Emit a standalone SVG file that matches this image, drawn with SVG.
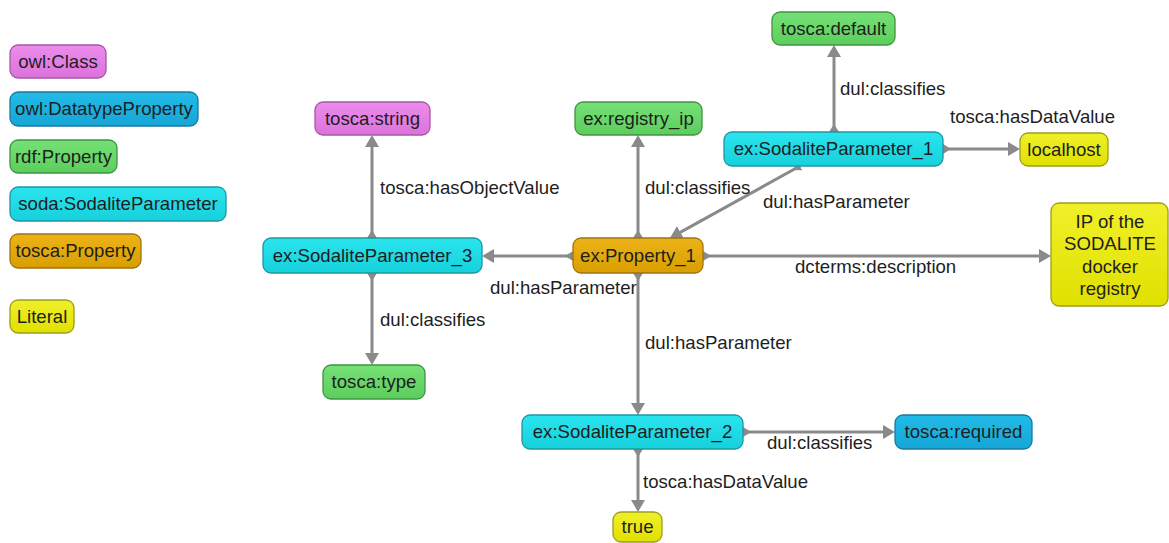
<svg xmlns="http://www.w3.org/2000/svg" width="1169" height="543" viewBox="0 0 1169 543">
  <style>
    text { font-family: "Liberation Sans", Arial, sans-serif; font-size: 18.6px; fill: #1e1e1e; }
    .n text { text-anchor: middle; }
    .n rect { stroke-width: 1.3; }
    .cls rect { fill: url(#gCls); stroke: #a458a4; }
    .dtp rect { fill: url(#gDtp); stroke: #1b78a0; }
    .rdf rect { fill: url(#gRdf); stroke: #3f943f; }
    .sp rect { fill: url(#gSp); stroke: #2096a2; }
    .tp rect { fill: url(#gTp); stroke: #a07410; }
    .lit rect { fill: url(#gLit); stroke: #9d9d1c; }
    .edges line { stroke: #8a8a8a; stroke-width: 3; marker-start: url(#tail); marker-end: url(#head); }
    .lbl { text-anchor: start; }
  </style>
  <defs>
    <linearGradient id="gCls" x1="0" y1="0" x2="0" y2="1"><stop offset="0" stop-color="#ec8cec"/><stop offset="1" stop-color="#dc72dc"/></linearGradient>
    <linearGradient id="gDtp" x1="0" y1="0" x2="0" y2="1"><stop offset="0" stop-color="#22bbe8"/><stop offset="1" stop-color="#15a6d6"/></linearGradient>
    <linearGradient id="gRdf" x1="0" y1="0" x2="0" y2="1"><stop offset="0" stop-color="#76e076"/><stop offset="1" stop-color="#5cce5c"/></linearGradient>
    <linearGradient id="gSp" x1="0" y1="0" x2="0" y2="1"><stop offset="0" stop-color="#2ae4ee"/><stop offset="1" stop-color="#16d0dc"/></linearGradient>
    <linearGradient id="gTp" x1="0" y1="0" x2="0" y2="1"><stop offset="0" stop-color="#ecb318"/><stop offset="1" stop-color="#d99f00"/></linearGradient>
    <linearGradient id="gLit" x1="0" y1="0" x2="0" y2="1"><stop offset="0" stop-color="#f0f02a"/><stop offset="1" stop-color="#e0e000"/></linearGradient>
    <marker id="head" viewBox="0 0 12 14" refX="6" refY="7" markerWidth="12" markerHeight="14" markerUnits="userSpaceOnUse" orient="auto">
      <path d="M0,0 L12,7 L0,14 z" fill="#8a8a8a"/>
    </marker>
    <marker id="tail" viewBox="0 0 8 10" refX="0" refY="5" markerWidth="8" markerHeight="10" markerUnits="userSpaceOnUse" orient="auto">
      <path d="M0,0 L8,5 L0,10 z" fill="#8a8a8a"/>
    </marker>
  </defs>

  <!-- connectors -->
  <g id="connectors" class="edges">
    <line x1="372" y1="238" x2="372" y2="141"/>
    <line x1="372" y1="273" x2="372" y2="359"/>
    <line x1="573" y1="256" x2="488" y2="256"/>
    <line x1="638" y1="238" x2="638" y2="141"/>
    <line x1="638" y1="273" x2="638" y2="409"/>
    <line x1="703" y1="256" x2="1045" y2="256"/>
    <line x1="834" y1="132" x2="834" y2="51"/>
    <line x1="943" y1="149" x2="1014" y2="149"/>
    <line x1="800" y1="166" x2="675.2" y2="235.1"/>
    <line x1="743" y1="432" x2="889" y2="432"/>
    <line x1="638" y1="449" x2="638" y2="506"/>
  </g>

  <!-- connector labels -->
  <g id="labels">
    <text class="lbl" x="380" y="194">tosca:hasObjectValue</text>
    <text class="lbl" x="380" y="326">dul:classifies</text>
    <text class="lbl" x="490" y="294">dul:hasParameter</text>
    <text class="lbl" x="645" y="194">dul:classifies</text>
    <text class="lbl" x="763" y="208">dul:hasParameter</text>
    <text class="lbl" x="840" y="95">dul:classifies</text>
    <text class="lbl" x="950" y="123">tosca:hasDataValue</text>
    <text class="lbl" x="795" y="273">dcterms:description</text>
    <text class="lbl" x="645" y="349">dul:hasParameter</text>
    <text class="lbl" x="767" y="449">dul:classifies</text>
    <text class="lbl" x="643" y="488">tosca:hasDataValue</text>
  </g>

  <!-- legend -->
  <g id="legend-owl-class" class="n cls"><rect x="10" y="45" width="96" height="33" rx="8"/><text x="58" y="67.5">owl:Class</text></g>
  <g id="legend-owl-datatypeproperty" class="n dtp"><rect x="10" y="92" width="188" height="34" rx="8"/><text x="104" y="115">owl:DatatypeProperty</text></g>
  <g id="legend-rdf-property" class="n rdf"><rect x="10" y="140" width="107" height="33" rx="8"/><text x="63.5" y="162.5">rdf:Property</text></g>
  <g id="legend-soda-sodaliteparameter" class="n sp"><rect x="10" y="187" width="216" height="34" rx="8"/><text x="118" y="210">soda:SodaliteParameter</text></g>
  <g id="legend-tosca-property" class="n tp"><rect x="10" y="234" width="131" height="34" rx="8"/><text x="75.5" y="257">tosca:Property</text></g>
  <g id="legend-literal" class="n lit"><rect x="10" y="300" width="64" height="33" rx="8"/><text x="42" y="322.5">Literal</text></g>

  <!-- graph nodes -->
  <g id="tosca-string" class="n cls"><rect x="315" y="102" width="115" height="33" rx="8"/><text x="372.5" y="124.5">tosca:string</text></g>
  <g id="ex-sodaliteparameter-3" class="n sp"><rect x="263" y="238" width="219" height="35" rx="8"/><text x="372.5" y="261.5">ex:SodaliteParameter_3</text></g>
  <g id="tosca-type" class="n rdf"><rect x="323" y="365" width="102" height="34" rx="8"/><text x="374" y="388">tosca:type</text></g>
  <g id="ex-registry-ip" class="n rdf"><rect x="575" y="102" width="127" height="33" rx="8"/><text x="638.5" y="124.5">ex:registry_ip</text></g>
  <g id="ex-property-1" class="n tp"><rect x="573" y="238" width="130" height="35" rx="8"/><text x="638" y="261.5">ex:Property_1</text></g>
  <g id="tosca-default" class="n rdf"><rect x="772" y="12" width="123" height="33" rx="8"/><text x="833.5" y="34.5">tosca:default</text></g>
  <g id="ex-sodaliteparameter-1" class="n sp"><rect x="724" y="132" width="219" height="34" rx="8"/><text x="833.5" y="155">ex:SodaliteParameter_1</text></g>
  <g id="localhost" class="n lit"><rect x="1020" y="133" width="88" height="33" rx="8"/><text x="1064" y="155.5">localhost</text></g>
  <g id="registry-description" class="n lit"><rect x="1051" y="203" width="117" height="103" rx="8"/>
    <text x="1110" y="228">IP of the</text>
    <text x="1110" y="250">SODALITE</text>
    <text x="1110" y="273">docker</text>
    <text x="1110" y="295">registry</text>
  </g>
  <g id="ex-sodaliteparameter-2" class="n sp"><rect x="522" y="415" width="221" height="34" rx="8"/><text x="632.5" y="438">ex:SodaliteParameter_2</text></g>
  <g id="tosca-required" class="n dtp"><rect x="895" y="415" width="137" height="34" rx="8"/><text x="963.5" y="438">tosca:required</text></g>
  <g id="true" class="n lit"><rect x="613" y="512" width="49" height="30" rx="8"/><text x="637.5" y="533">true</text></g>
</svg>
